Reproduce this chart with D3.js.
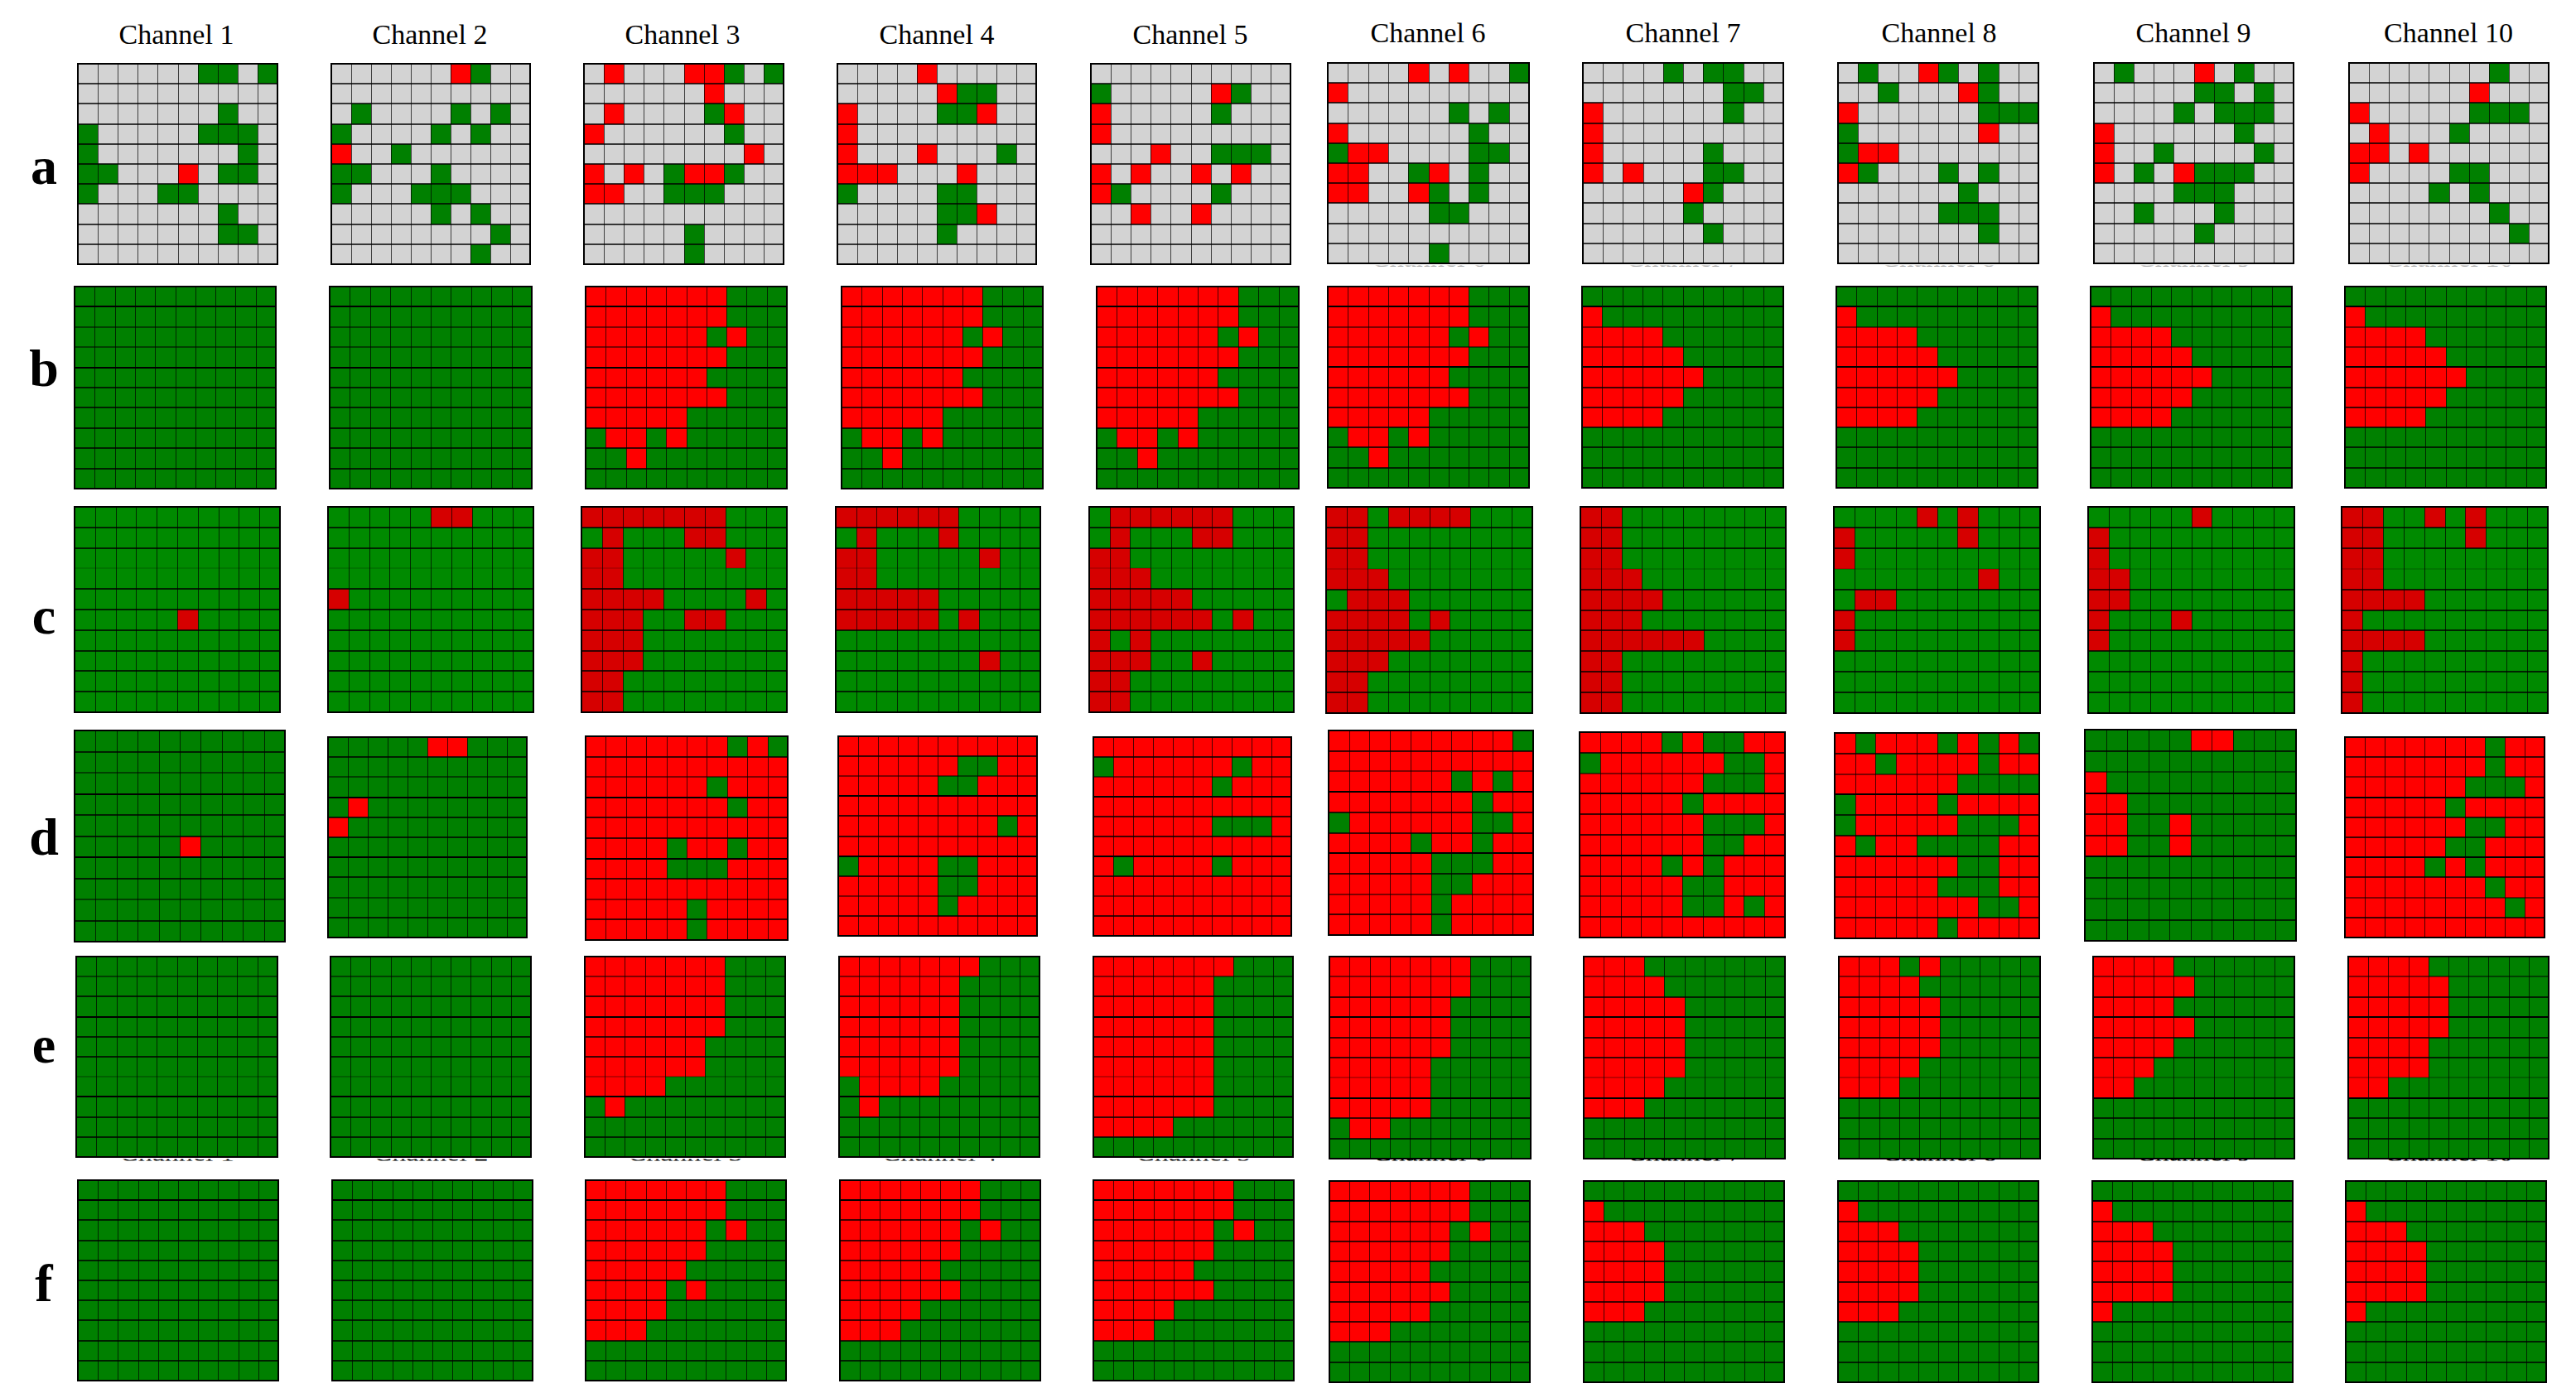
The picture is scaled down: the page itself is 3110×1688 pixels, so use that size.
<!DOCTYPE html>
<html>
<head>
<meta charset="utf-8">
<title>Channels</title>
<script src="https://cdnjs.cloudflare.com/ajax/libs/d3/7.8.5/d3.min.js"></script>
<style>
  html, body { margin: 0; padding: 0; background: #fff; }
  svg { display: block; }
</style>
</head>
<body>
<div id="chart"></div>
<script>
// labels
const channelNames = ["Channel 1","Channel 2","Channel 3","Channel 4","Channel 5","Channel 6","Channel 7","Channel 8","Channel 9","Channel 10"];
const rowNames = ["a","b","c","d","e","f"];

// one block per row, one line per channel, one string per grid row
// r = red, g = green, . = the row's background colour
const rowA = [
  ["......gg.g","..........",".......g..","g.....ggg.","g.......g.","gg...r.gg.","g...gg....",".......g..",".......gg.",".........."],
  ["......rg..","..........",".g....g.g.","g....g.g..","r..g......","gg...g....","g...ggg...",".....g.g..","........g.",".......g.."],
  [".r...rrg.g","......r...",".r....gr..","r......g..","........r.","r.r.grrg..","rr..ggg...","..........",".....g....",".....g...."],
  ["....r.....",".....rgg..","r....ggr..","r.........","r...r...g.","rrr...r...","g....gg...",".....ggr..",".....g....",".........."],
  ["..........","g.....rg..","r.....g...","r.........","...r..ggg.","r.r..r.r..","rg....g...","..r..r....","..........",".........."],
  ["....r.r..g","r.........","......g.g.","r......g..","grr....gg.","rr..gr.g..","rr..rg.g..",".....gg...","..........",".....g...."],
  ["....g.gg..",".......gg.","r......g..","r.........","r.....g...","r.r...gg..",".....rg...",".....g....","......g...",".........."],
  [".g..rg.g..","..g...rg..","r......ggg","g......r..","grr.......","rg...g.g..","......g...",".....ggg..",".......g..",".........."],
  [".g...r.g..",".....gg.g.","....g.ggg.","r......g..","r..g....g.","r.g.rggg..","....ggg...","..g...g...",".....g....",".........."],
  [".......g..","......r...","r.....ggg.",".r...g....","rr.r......","r....gg...","....g.g...",".......g..","........g.",".........."]
];

const rowB = [
  ["..........","..........","..........","..........","..........","..........","..........","..........","..........",".........."],
  ["..........","..........","..........","..........","..........","..........","..........","..........","..........",".........."],
  ["rrrrrrr...","rrrrrrr...","rrrrrr.r..","rrrrrrr...","rrrrrr....","rrrrrrr...","rrrrr.....",".rr.r.....","..r.......",".........."],
  ["rrrrrrr...","rrrrrrr...","rrrrrr.r..","rrrrrrr...","rrrrrr....","rrrrrrr...","rrrrr.....",".rr.r.....","..r.......",".........."],
  ["rrrrrrr...","rrrrrrr...","rrrrrr.r..","rrrrrrr...","rrrrrr....","rrrrrrr...","rrrrr.....",".rr.r.....","..r.......",".........."],
  ["rrrrrrr...","rrrrrrr...","rrrrrr.r..","rrrrrrr...","rrrrrr....","rrrrrrr...","rrrrr.....",".rr.r.....","..r.......",".........."],
  ["..........","r.........","rrrr......","rrrrr.....","rrrrrr....","rrrrr.....","rrrr......","..........","..........",".........."],
  ["..........","r.........","rrrr......","rrrrr.....","rrrrrr....","rrrrr.....","rrrr......","..........","..........",".........."],
  ["..........","r.........","rrrr......","rrrrr.....","rrrrrr....","rrrrr.....","rrrr......","..........","..........",".........."],
  ["..........","r.........","rrrr......","rrrrr.....","rrrrrr....","rrrrr.....","rrrr......","..........","..........",".........."]
];

const rowC = [
  ["..........","..........","..........","..........","..........",".....r....","..........","..........","..........",".........."],
  [".....rr...","..........","..........","..........","r.........","..........","..........","..........","..........",".........."],
  ["rrrrrrr...",".r...rr...","rr.....r..","rr........","rrrr....r.","rrr..rr...","rrr.......","rrr.......","rr........","rr........"],
  ["rrrrrr....",".r...r....","rr.....r..","rr........","rrrrr.....","rrrrr.r...","..........",".......r..","..........",".........."],
  [".rrrrrr...",".r...rr...","rr........","rrr.......","rrrrr.....","rrrrrr.r..","r.r.......","rrr..r....","rr........","rr........"],
  ["rr.rrrr...","rr........","rr........","rrr.......",".rrr......","rrrr.r....","rrrrr.....","rrr.......","rr........","rr........"],
  ["rr........","rr........","rr........","rrr.......","rrrr......","rrr.......","rrrrrr....","rr........","rr........","rr........"],
  ["....r.r...","r.....r...","r.........",".......r..",".rr.......","r.........","r.........","..........","..........",".........."],
  [".....r....","r.........","r.........","rr........","rr........","r...r.....","r.........","..........","..........",".........."],
  ["rr..r.r...","rr....r...","rr........","rr........","rrrr......","r.........","rrrr......","r.........","r.........","r........."]
];

const rowD = [
  ["..........","..........","..........","..........","..........",".....r....","..........","..........","..........",".........."],
  [".....rr...","..........","..........",".r........","r.........","..........","..........","..........","..........",".........."],
  ["rrrrrrrgrg","rrrrrrrrrr","rrrrrrgrrr","rrrrrrrgrr","rrrrrrrrrr","rrrrgrrgrr","rrrrgggrrr","rrrrrrrrrr","rrrrrgrrrr","rrrrrgrrrr"],
  ["rrrrrrrrrr","rrrrrrggrr","rrrrrggrrr","rrrrrrrrrr","rrrrrrrrgr","rrrrrrrrrr","grrrrggrrr","rrrrrggrrr","rrrrrgrrrr","rrrrrrrrrr"],
  ["rrrrrrrrrr","grrrrrrgrr","rrrrrrgrrr","rrrrrrrrrr","rrrrrrgggr","rrrrrrrrrr","rgrrrrgrrr","rrrrrrrrrr","rrrrrrrrrr","rrrrrrrrrr"],
  ["rrrrrrrrrg","rrrrrrrrrr","rrrrrrgrgr","rrrrrrrgrr","grrrrrrggr","rrrrgrrgrr","rrrrrgggrr","rrrrrggrrr","rrrrrgrrrr","rrrrrgrrrr"],
  ["rrrrgrggrr","grrrrrrggr","rrrrrrgggr","rrrrrgrrrr","rrrrrrgggr","rrrrrrggrr","rrrrgrgrrr","rrrrrggrrr","rrrrrggrgr","rrrrrrrrrr"],
  ["rgrrrgrgrg","rrgrrrrgrr","rrrrrrgggg","grrrrgrrrr","grrrrrgggr","rgrrggggrr","rrrrrrggrr","rrrrrgggrr","rrrrrrrggr","rrrrrgrrrr"],
  [".....rr...","..........","r.........","rr........","rr..r.....","rr..r.....","..........","..........","..........",".........."],
  ["rrrrrrrgrr","rrrrrrrgrr","rrrrrrgggr","rrrrrgrrrr","rrrrrrggrr","rrrrrggrrr","rrrrgrgrrr","rrrrrrrgrr","rrrrrrrrgr","rrrrrrrrrr"]
];

const rowE = [
  ["..........","..........","..........","..........","..........","..........","..........","..........","..........",".........."],
  ["..........","..........","..........","..........","..........","..........","..........","..........","..........",".........."],
  ["rrrrrrr...","rrrrrrr...","rrrrrrr...","rrrrrrr...","rrrrrr....","rrrrrr....","rrrr......",".r........","..........",".........."],
  ["rrrrrrr...","rrrrrr....","rrrrrr....","rrrrrr....","rrrrrr....","rrrrrr....",".rrrr.....",".r........","..........",".........."],
  ["rrrrrrr...","rrrrrr....","rrrrrr....","rrrrrr....","rrrrrr....","rrrrrr....","rrrrrr....","rrrrrr....","rrrr......",".........."],
  ["rrrrrrr...","rrrrrrr...","rrrrrr....","rrrrrr....","rrrrrr....","rrrrr.....","rrrrr.....","rrrrr.....",".rr.......",".........."],
  ["rrr.......","rrrr......","rrrrr.....","rrrrr.....","rrrrr.....","rrrrr.....","rrrr......","rrr.......","..........",".........."],
  ["rrr.r.....","rrrr......","rrrrr.....","rrrrr.....","rrrrr.....","rrrr......","rrr.......","..........","..........",".........."],
  ["rrrr......","rrrrr.....","rrrr......","rrrrr.....","rrrr......","rrr.......","rr........","..........","..........",".........."],
  ["rrrr......","rrrrr.....","rrrrr.....","rrrrr.....","rrrr......","rrrr......","rr........","..........","..........",".........."]
];

const rowF = [
  ["..........","..........","..........","..........","..........","..........","..........","..........","..........",".........."],
  ["..........","..........","..........","..........","..........","..........","..........","..........","..........",".........."],
  ["rrrrrrr...","rrrrrrr...","rrrrrr.r..","rrrrrr....","rrrrr.....","rrrr.r....","rrrr......","rrr.......","..........",".........."],
  ["rrrrrrr...","rrrrrrr...","rrrrrr.r..","rrrrrr....","rrrrr.....","rrrrrr....","rrrr......","rrr.......","..........",".........."],
  ["rrrrrrr...","rrrrrrr...","rrrrrr.r..","rrrrrr....","rrrrr.....","rrrrrr....","rrrr......","rrr.......","..........",".........."],
  ["rrrrrrr...","rrrrrrr...","rrrrrr.r..","rrrrrr....","rrrrr.....","rrrrrr....","rrrrr.....","rrr.......","..........",".........."],
  ["..........","r.........","rrr.......","rrrr......","rrrr......","rrrr......","rrr.......","..........","..........",".........."],
  ["..........","r.........","rrr.......","rrrr......","rrrr......","rrrr......","rrr.......","..........","..........",".........."],
  ["..........","r.........","rrr.......","rrrr......","rrrr......","rrrr......","r.........","..........","..........",".........."],
  ["..........","r.........","rrr.......","rrrr......","rrrr......","rrrr......","r.........","..........","..........",".........."]
];

const rows = [rowA, rowB, rowC, rowD, rowE, rowF];

// panel boxes in page pixels, the original figure is pasted by hand so they wander a bit
// [x0, x1, y0, y1]
const panelBoxes = [
  [[94,335,77,319],[400,640,77,319],[705,946,77,319],[1011,1251,77,319],[1317,1558,77,319],[1603,1846,76,318],[1911,2153,76,318],[2219,2461,76,318],[2528,2769,76,318],[2836,3077,76,318]],
  [[90,333,346,590],[398,642,346,590],[707,950,346,590],[1016,1259,346,590],[1324,1568,346,590],[1603,1846,346,589],[1910,2153,346,589],[2217,2460,346,589],[2524,2767,346,589],[2831,3074,346,589]],
  [[90,338,612,860],[396,644,612,860],[702,950,612,860],[1009,1256,612,860],[1315,1562,612,860],[1601,1850,612,861],[1908,2156,612,861],[2214,2463,612,861],[2521,2770,612,861],[2827,3076,612,861]],
  [[90,344,882,1137],[396,636,890,1132],[707,951,889,1135],[1012,1252,889,1130],[1320,1559,890,1130],[1604,1851,882,1129],[1907,2155,884,1132],[2215,2462,885,1133],[2517,2772,881,1136],[2831,3072,890,1132]],
  [[92,335,1155,1397],[399,641,1155,1397],[706,948,1155,1397],[1013,1255,1155,1397],[1320,1561,1155,1397],[1605,1848,1155,1399],[1912,2155,1155,1399],[2220,2463,1155,1399],[2527,2770,1155,1399],[2835,3077,1155,1399]],
  [[94,336,1425,1667],[401,643,1425,1667],[707,949,1425,1667],[1014,1256,1425,1667],[1320,1562,1425,1667],[1605,1847,1426,1669],[1912,2154,1426,1669],[2219,2461,1426,1669],[2526,2768,1426,1669],[2832,3074,1426,1669]]
];

const titleCenters = [213,519,824,1131,1437,1724,2032,2341,2648,2956];
const titleBaselines = [53,53,53,53,53,51,51,51,51,51];
const letterBaselines = [222,466,765,1032,1283,1571];

// horizontal grid line weight per row, they did not survive the resize evenly
const lineWeights = [
  [1.5,1.5,1.5,1.5,1.5,1.5,1.5,1.5,1.5],
  [2,1.2,1.2,2,1.5,1.5,1.5,1.5,1.5],
  [1.5,1.5,0.3,1.5,1.5,1.5,1.5,1.5,1.5],
  [1.5,1.2,1.8,1.5,1.5,1.8,1.5,1.2,1.5],
  [1.2,1.5,2,1.5,1.5,0.5,2,1.5,1.5],
  [2,1.5,1.5,1.5,1.5,1.5,1.5,1.5,1.5]
];

const greenFill = "#008000", redFill = "#ff0000", grayFill = "#d3d3d3";
const rowBackground = [grayFill, greenFill, "#008a00", greenFill, greenFill, greenFill];
const rowRed = [redFill, redFill, "#d60000", redFill, redFill, redFill];
const rowGreen = [greenFill, greenFill, "#008a00", greenFill, greenFill, greenFill];

const width = 3110, height = 1688;

const svg = d3.select("#chart").append("svg")
  .attr("width", width)
  .attr("height", height)
  .style("background", "#fff");

const serif = "'Liberation Serif', serif";

// channel titles
svg.selectAll(".title")
  .data(channelNames)
  .enter().append("text")
  .attr("class", "title")
  .attr("x", (d, i) => titleCenters[i])
  .attr("y", (d, i) => titleBaselines[i])
  .attr("text-anchor", "middle")
  .attr("font-family", serif)
  .attr("font-size", 34)
  .attr("fill", "#000")
  .text(d => d);

// row letters
svg.selectAll(".letter")
  .data(rowNames)
  .enter().append("text")
  .attr("class", "letter")
  .attr("x", 53)
  .attr("y", (d, i) => letterBaselines[i])
  .attr("text-anchor", "middle")
  .attr("font-family", serif)
  .attr("font-weight", "bold")
  .attr("font-size", 64)
  .attr("fill", "#000")
  .text(d => d);

// leftovers of titles that were cropped off when the figure was assembled
const defs = svg.append("defs");
defs.append("clipPath").attr("id", "cropA").append("rect")
  .attr("x", 1590).attr("y", 320.5).attr("width", 1500).attr("height", 1.5);
defs.append("clipPath").attr("id", "cropE").append("rect")
  .attr("x", 90).attr("y", 1399.5).attr("width", 3000).attr("height", 2);

svg.append("g").attr("clip-path", "url(#cropA)")
  .selectAll("text")
  .data(channelNames.slice(5))
  .enter().append("text")
  .attr("x", (d, i) => (panelBoxes[0][i + 5][0] + panelBoxes[0][i + 5][1]) / 2)
  .attr("y", 322)
  .attr("text-anchor", "middle")
  .attr("font-family", serif)
  .attr("font-size", 34)
  .attr("fill", "#aaa")
  .text(d => d);

svg.append("g").attr("clip-path", "url(#cropE)")
  .selectAll("text")
  .data(channelNames)
  .enter().append("text")
  .attr("x", (d, i) => (panelBoxes[4][i][0] + panelBoxes[4][i][1]) / 2)
  .attr("y", 1401.5)
  .attr("text-anchor", "middle")
  .attr("font-family", serif)
  .attr("font-size", 34)
  .attr("fill", "#000")
  .text(d => d);

const idx = d3.range(10);

rows.forEach(function(row, r) {
  row.forEach(function(panel, c) {
    const box = panelBoxes[r][c];
    const x = d3.scaleBand().domain(idx).range([box[0], box[1]]);
    const y = d3.scaleBand().domain(idx).range([box[2], box[3]]);
    const g = svg.append("g").attr("class", "panel");

    const cells = [];
    panel.forEach(function(line, i) {
      line.split("").forEach(function(code, j) {
        cells.push({ i: i, j: j, code: code });
      });
    });

    g.selectAll("rect")
      .data(cells)
      .enter().append("rect")
      .attr("x", d => x(d.j))
      .attr("y", d => y(d.i))
      .attr("width", x.bandwidth())
      .attr("height", y.bandwidth())
      .attr("shape-rendering", "crispEdges")
      .attr("fill", function(d) {
        if (d.code === "r") return rowRed[r];
        if (d.code === "g") return rowGreen[r];
        return rowBackground[r];
      });

    // grid, verticals are thin and horizontals a little heavier
    g.selectAll(".v")
      .data(d3.range(1, 10))
      .enter().append("line")
      .attr("class", "v")
      .attr("x1", d => Math.round(x(d)) + 0.5)
      .attr("x2", d => Math.round(x(d)) + 0.5)
      .attr("y1", box[2])
      .attr("y2", box[3])
      .attr("stroke", "#000")
      .attr("stroke-opacity", 0.7)
      .attr("stroke-width", 1);

    g.selectAll(".h")
      .data(d3.range(1, 10))
      .enter().append("line")
      .attr("class", "h")
      .attr("x1", box[0])
      .attr("x2", box[1])
      .attr("y1", d => Math.round(y(d)))
      .attr("y2", d => Math.round(y(d)))
      .attr("stroke", "#000")
      .attr("stroke-width", d => lineWeights[r][d - 1]);

    g.append("rect")
      .attr("x", box[0])
      .attr("y", box[2])
      .attr("width", box[1] - box[0])
      .attr("height", box[3] - box[2])
      .attr("fill", "none")
      .attr("stroke", "#000")
      .attr("stroke-width", 2)
      .attr("shape-rendering", "crispEdges");
  });
});
</script>
</body>
</html>
